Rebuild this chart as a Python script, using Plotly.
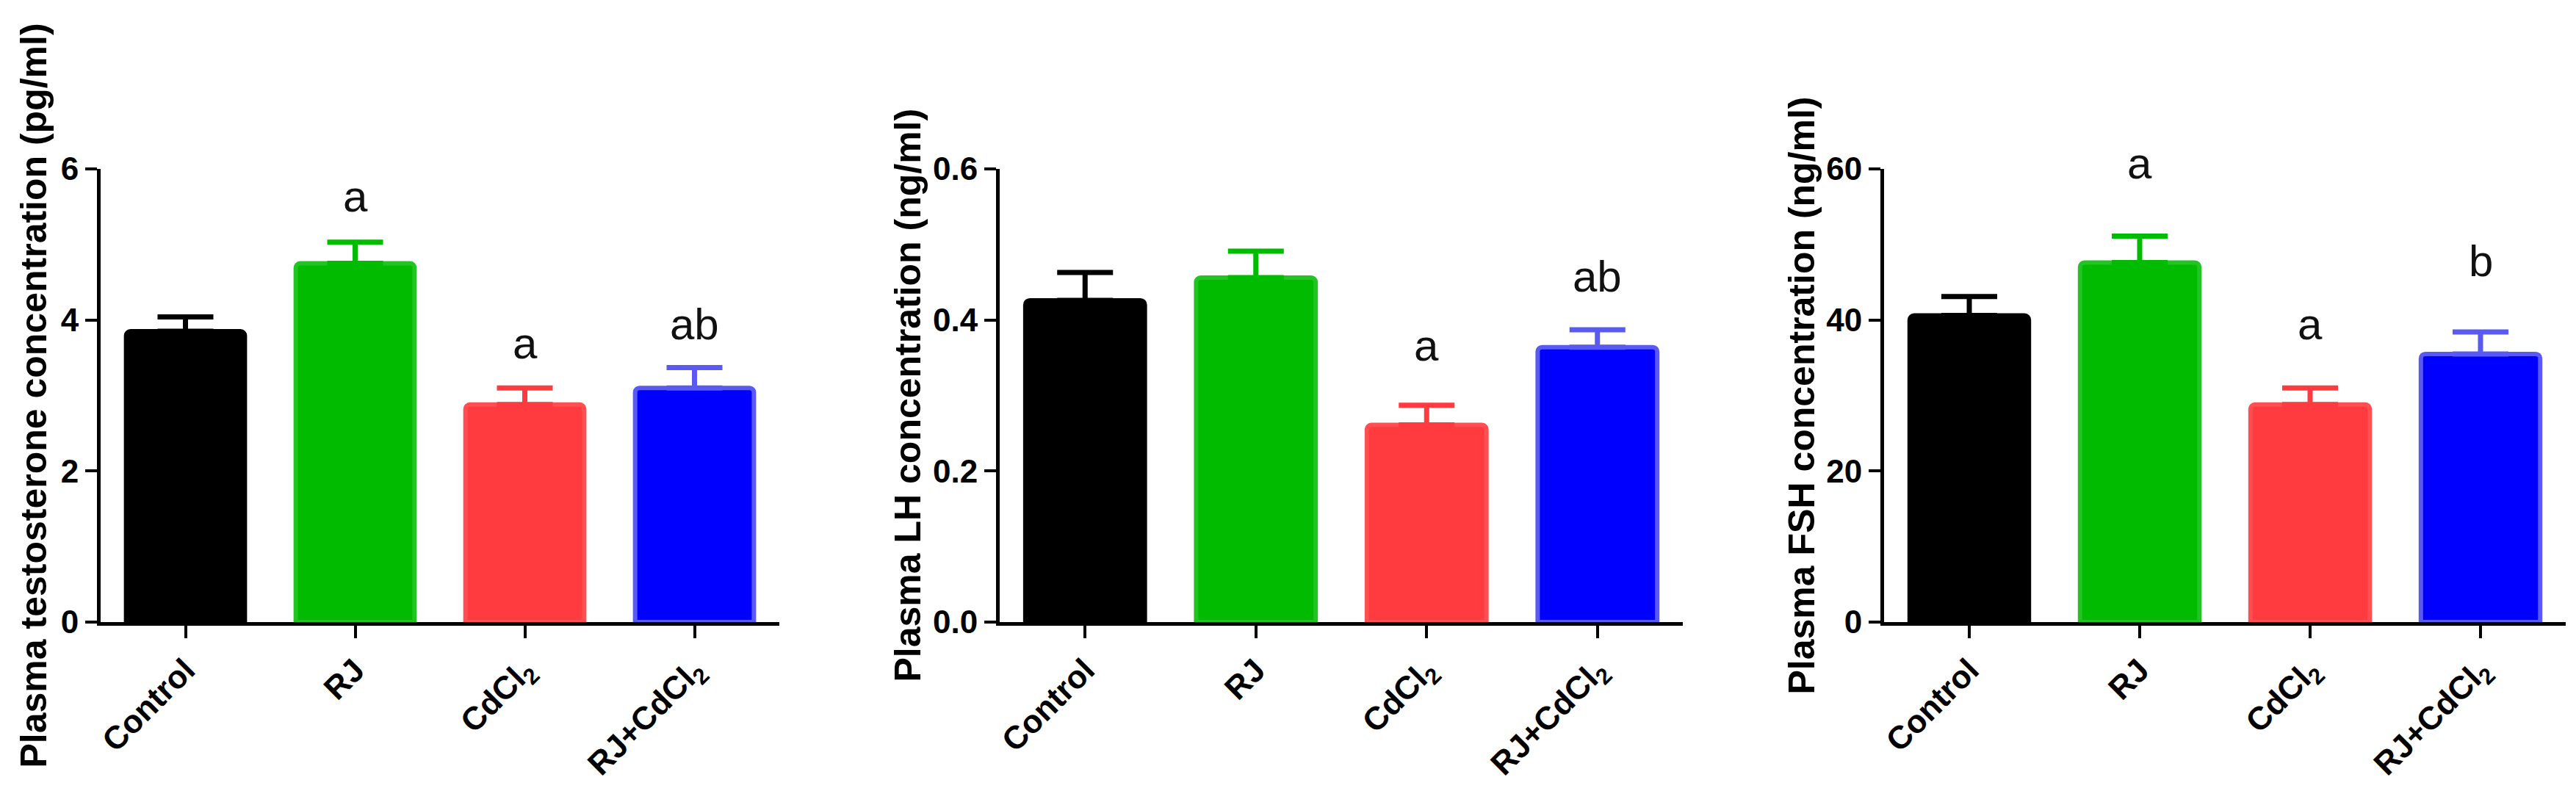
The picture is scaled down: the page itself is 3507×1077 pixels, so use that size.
import plotly.graph_objects as go

# ---------------- data ----------------
groups = ["Control", "RJ", "CdCl<sub>2</sub>", "RJ+CdCl<sub>2</sub>"]

testosterone_mean = [3.85, 4.75, 2.88, 3.10]
testosterone_sem = [0.19, 0.28, 0.22, 0.27]
testosterone_letters = ["", "a", "a", "ab"]

lh_mean = [0.426, 0.456, 0.261, 0.364]
lh_sem = [0.037, 0.035, 0.026, 0.023]
lh_letters = ["", "", "a", "ab"]

fsh_mean = [40.6, 47.6, 28.8, 35.5]
fsh_sem = [2.5, 3.5, 2.2, 2.9]
fsh_letters = ["", "a", "a", "b"]

testosterone_ticks = [0, 2, 4, 6]
testosterone_ticktext = ["0", "2", "4", "6"]
lh_ticks = [0, 0.2, 0.4, 0.6]
lh_ticktext = ["0.0", "0.2", "0.4", "0.6"]
fsh_ticks = [0, 20, 40, 60]
fsh_ticktext = ["0", "20", "40", "60"]

titles = [
    "Plasma testosterone concentration (pg/ml)",
    "Plasma LH concentration (ng/ml)",
    "Plasma FSH concentration (ng/ml)",
]

# ---------------- style ----------------
W, H = 3507, 1077
fill_colors = ["#000000", "#00bb00", "#ff3b3f", "#0000ff"]
line_colors = ["#000000", "#22c422", "#ff4f52", "#5a5af2"]
err_colors = ["#000000", "#00bb00", "#ff3b3f", "#5a5af2"]
FONT = "Liberation Sans, Arial, Helvetica, sans-serif"

panels = [
    dict(mean=testosterone_mean, sem=testosterone_sem, letters=testosterone_letters,
         ticks=testosterone_ticks, ticktext=testosterone_ticktext, ymax=6,
         xpx=(137, 1061), title_x=45, gaps=[0, 41, 39, 37]),
    dict(mean=lh_mean, sem=lh_sem, letters=lh_letters,
         ticks=lh_ticks, ticktext=lh_ticktext, ymax=0.6,
         xpx=(1361, 2291), title_x=1235, gaps=[0, 0, 60, 51]),
    dict(mean=fsh_mean, sem=fsh_sem, letters=fsh_letters,
         ticks=fsh_ticks, ticktext=fsh_ticktext, ymax=60,
         xpx=(2565, 3493), title_x=2452, gaps=[0, 78, 65, 75]),
]

y_top_px, y_bot_px = 230, 847
ydom = [1 - y_bot_px / H, 1 - y_top_px / H]

fig = go.Figure()
annotations = []
layout_axes = {}

for p_i, p in enumerate(panels):
    n = p_i + 1
    xa = "x" if n == 1 else f"x{n}"
    ya = "y" if n == 1 else f"y{n}"
    for i, g in enumerate(groups):
        fig.add_trace(go.Bar(
            x=[g], y=[p["mean"][i]],
            xaxis=xa, yaxis=ya,
            width=0.7,
            marker=dict(color=fill_colors[i], line=dict(color=line_colors[i], width=6),
                        cornerradius=6),
            error_y=dict(type="data", array=[p["sem"][i]], arrayminus=[0],
                         symmetric=False, color=err_colors[i], thickness=7, width=38),
            showlegend=False,
        ))
        if p["letters"][i]:
            annotations.append(dict(
                x=g, y=p["mean"][i] + p["sem"][i], xref=xa, yref=ya,
                text=p["letters"][i], showarrow=False, yanchor="bottom",
                yshift=p["gaps"][i] - 14,
                font=dict(family=FONT, size=60, color="#111111"),
            ))
    annotations.append(dict(
        x=p["title_x"] / W, y=0.5, xref="paper", yref="paper",
        text=titles[p_i], textangle=-90, showarrow=False,
        xanchor="center", yanchor="middle",
        font=dict(family=FONT, size=50, color="#000000", weight="bold"),
    ))
    xkey = "xaxis" if n == 1 else f"xaxis{n}"
    ykey = "yaxis" if n == 1 else f"yaxis{n}"
    layout_axes[xkey] = dict(
        domain=[p["xpx"][0] / W, p["xpx"][1] / W], anchor=ya,
        type="category", categoryorder="array", categoryarray=groups,
        range=[-0.5, 3.5], automargin=False,
        showline=True, linecolor="#000000", linewidth=5,
        ticks="outside", ticklen=17, tickwidth=4, tickcolor="#000000",
        tickangle=-45, showgrid=False, zeroline=False,
        tickfont=dict(family=FONT, size=44, color="#000000", weight="bold"),
    )
    layout_axes[ykey] = dict(
        domain=ydom, anchor=xa, range=[0, p["ymax"]], automargin=False,
        tickmode="array", tickvals=p["ticks"], ticktext=p["ticktext"],
        showline=True, linecolor="#000000", linewidth=5,
        ticks="outside", ticklen=16, tickwidth=4, tickcolor="#000000",
        showgrid=False, zeroline=False,
        tickfont=dict(family=FONT, size=44, color="#000000", weight="bold"),
    )

fig.update_layout(
    width=W, height=H,
    margin=dict(l=0, r=0, t=0, b=0, autoexpand=False),
    paper_bgcolor="#ffffff", plot_bgcolor="#ffffff",
    barmode="overlay",
    annotations=annotations,
    **layout_axes,
)

fig.write_html("out.html")
